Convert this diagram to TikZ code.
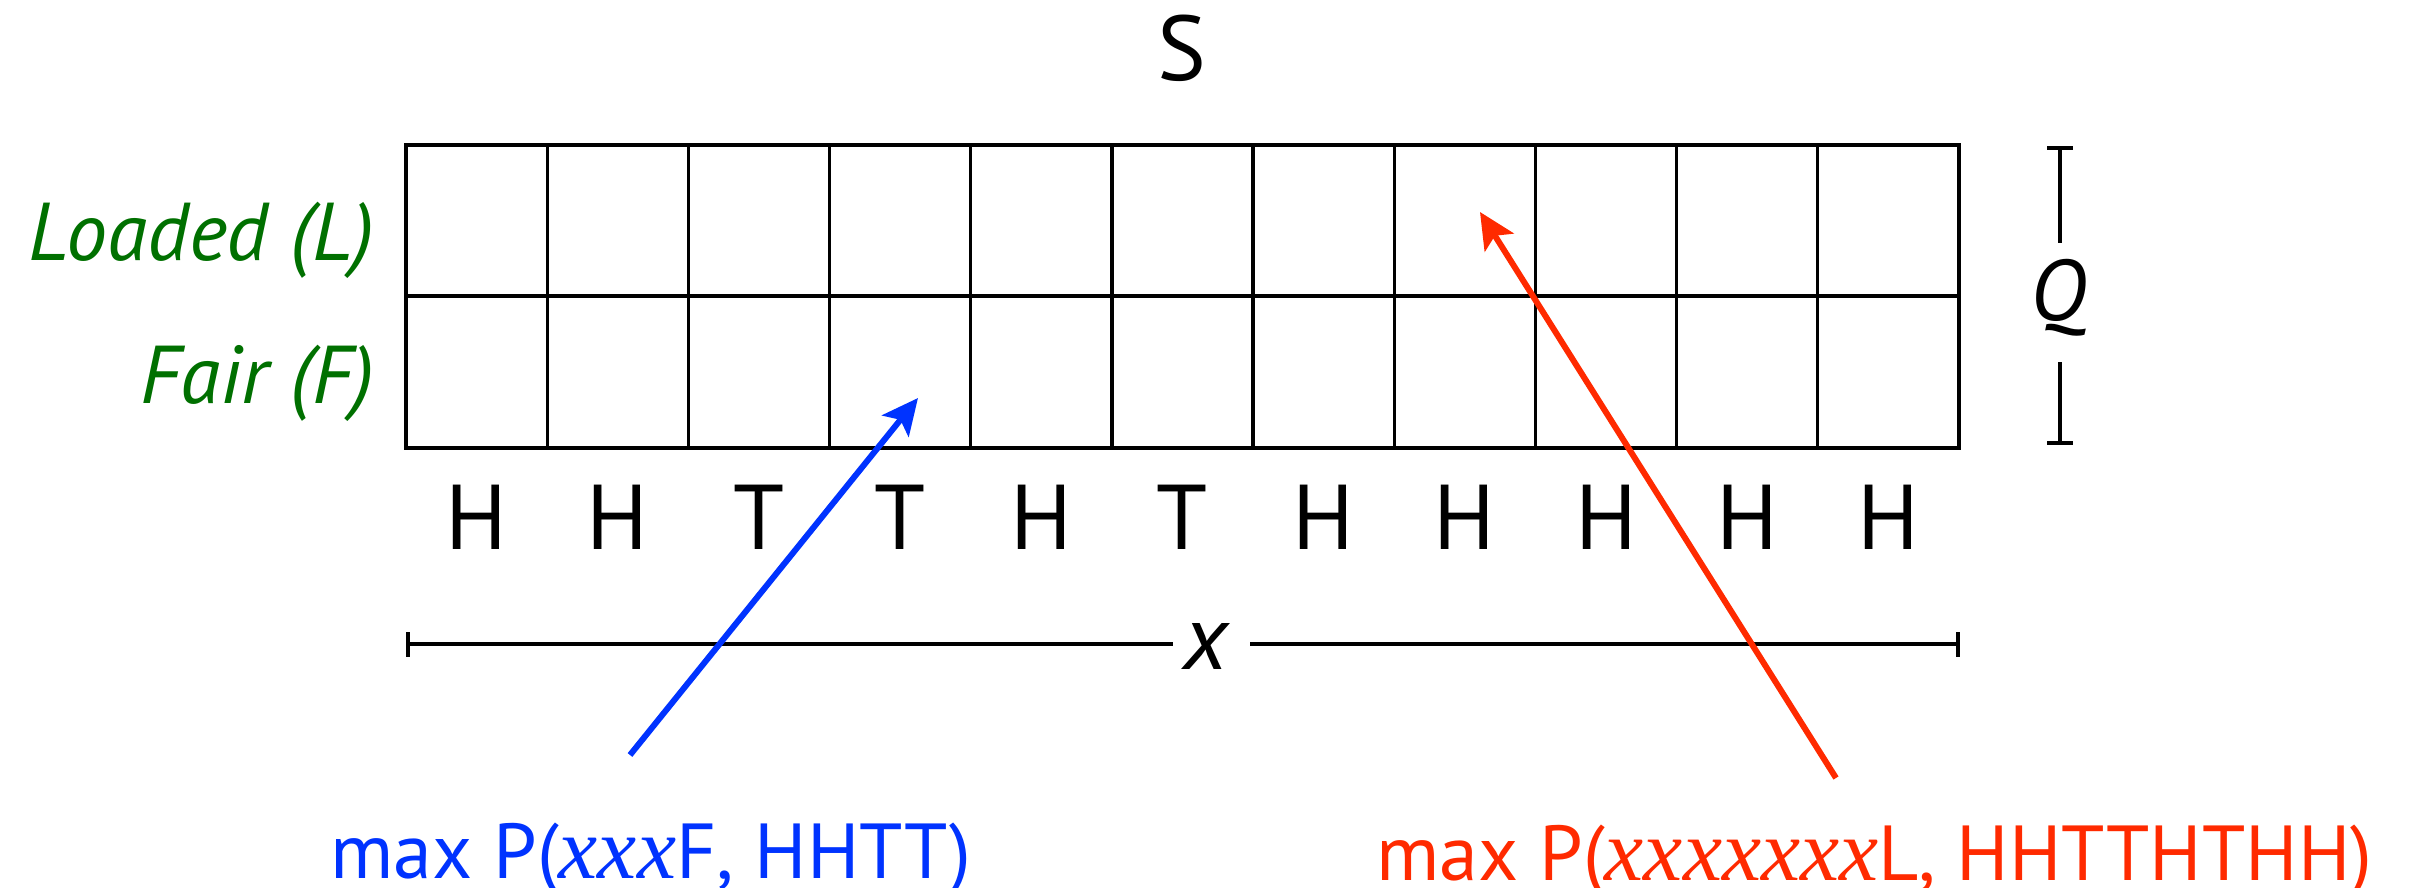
\documentclass[tikz,border=0pt]{standalone}
\usepackage{fontspec}
\setmainfont{PT Sans}
\newfontfamily\serifit{Liberation Serif}
\usetikzlibrary{arrows.meta}
\definecolor{lgreen}{RGB}{0,112,0}
\definecolor{lblue}{RGB}{0,51,255}
\definecolor{lred}{RGB}{255,42,0}
\newcommand{\sx}[1]{{\fontsize{44}{48}\serifit\itshape #1}}
\begin{document}
\begin{tikzpicture}[x=0.5pt,y=-0.5pt,
  lbl/.style={inner sep=0pt, anchor=base},
  coin/.style={lbl, font=\fontsize{46}{50}\selectfont},
  state/.style={inner sep=0pt, anchor=base east, text=lgreen, font=\fontsize{41}{45}\selectfont\itshape},
  gridh/.style={line width=2pt, line cap=rect},
  gridv/.style={line width=1.6pt},
  axis/.style={line width=2pt},
  tick/.style={line width=1.6pt},
  ptr/.style={line width=3pt, -{Stealth[length=18pt,width=17pt,inset=4pt]}},
  maxlbl/.style={inner sep=0pt, anchor=base west, font=\fontsize{39}{43}\selectfont}
]
\useasboundingbox (0,0) rectangle (2421,888);

% grid
\foreach \i in {0,...,11}
  \draw[gridv] ({406+\i*141.18},145) -- ({406+\i*141.18},448);
\draw[gridh] (406,145) -- (1959,145);
\draw[gridh] (406,296) -- (1959,296);
\draw[gridh] (406,448) -- (1959,448);

% coin outcomes
\foreach \c [count=\i from 0] in {H,H,T,T,H,T,H,H,H,H,H}
  \node[coin] (c\i) at ({406+(\i+0.5)*141.18},549) {\c};

% S
\node[coin] (S) at (1182,81) {S};

% states
\node[state] (L) at (375,260) {Loaded (L)};
\node[state] (F) at (375,403) {Fair (F)};

% Q
\node[lbl, font=\fontsize{43}{47}\selectfont\itshape] (Q) at (2058,320) {Q};
\coordinate (qt) at (2060,148);
\coordinate (qtb) at (2060,243);
\coordinate (qbt) at (2060,362);
\coordinate (qb) at (2060,443);
\draw[axis] (qt) -- (qtb);
\draw[axis] (qbt) -- (qb);
\draw[line width=2.2pt] (2047,148) -- (2073,148);
\draw[line width=2.2pt] (2047,443) -- (2073,443);

% x axis
\node[lbl, font=\fontsize{46}{50}\selectfont\itshape] (X) at (1206,669) {x};
\coordinate (xl) at (408,644);
\coordinate (xlm) at (1173,644);
\coordinate (xrm) at (1250,644);
\coordinate (xr) at (1958,644);
\draw[axis] (xl) -- (xlm);
\draw[axis] (xrm) -- (xr);
\draw[tick] (408,632) -- (408,657);
\draw[tick] (1958,632) -- (1958,657);

% labels
\node[maxlbl, text=lblue] (bl) at (330,878) {max P(\sx{xxx}F, HHTT)};
\node[maxlbl, text=lred] (rl) at (1376,880) {max P(\sx{xxxxxxx}L, HHTTHTHH)};

% arrows
\coordinate (btail) at (630,755);
\coordinate (btip) at (918,398);
\coordinate (rtail) at (1836,778);
\coordinate (rtip) at (1480,212);
\draw[ptr, lblue] (btail) -- (btip);
\draw[ptr, lred] (rtail) -- (rtip);
\end{tikzpicture}
\end{document}
